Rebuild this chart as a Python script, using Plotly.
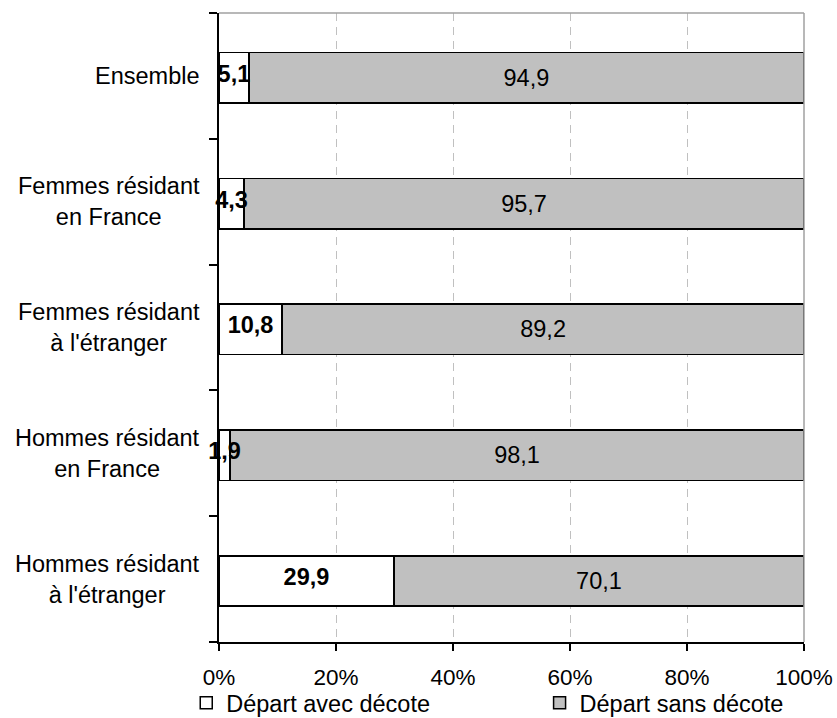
import plotly.graph_objects as go

# Categories, top to bottom
categories = [
    "Ensemble",
    "Femmes résidant<br>en France",
    "Femmes résidant<br>à l'étranger",
    "Hommes résidant<br>en France",
    "Hommes résidant<br>à l'étranger",
]
avec_decote = [5.1, 4.3, 10.8, 1.9, 29.9]
sans_decote = [94.9, 95.7, 89.2, 98.1, 70.1]
series_names = ["Départ avec décote", "Départ sans décote"]
x_ticks = [0, 20, 40, 60, 80, 100]
x_tick_labels = [f"{v}%" for v in x_ticks]

FONT = "Liberation Sans, Arial, sans-serif"
FS_LABEL = 23.5
FS_TICK = 22.5
FS_LEGEND = 23.5

BAR_WIDTH = 0.4
BAR_OFFSET = -0.215

fig = go.Figure()
fig.add_trace(go.Bar(
    y=categories, x=avec_decote, orientation="h", name=series_names[0],
    width=BAR_WIDTH, offset=BAR_OFFSET,
    marker=dict(color="white", line=dict(color="black", width=1.5)),
    legend="legend",
))
fig.add_trace(go.Bar(
    y=categories, x=sans_decote, orientation="h", name=series_names[1],
    width=BAR_WIDTH, offset=BAR_OFFSET,
    marker=dict(color="#c0c0c0", line=dict(color="black", width=1.5)),
    texttemplate="%{x:.1f}", textposition="inside", textangle=0,
    insidetextanchor="middle",
    insidetextfont=dict(color="black", size=FS_LABEL, family=FONT),
    constraintext="none", legend="legend2",
))
# Bold values of the first segment, drawn above both bar layers so they can
# spill over the narrow segments
fig.add_trace(go.Scatter(
    y=categories, x=[v / 2 for v in avec_decote], mode="text",
    text=[f"<b>{v:.1f}</b>".replace(".", ",") for v in avec_decote],
    textposition="middle center",
    textfont=dict(color="black", size=FS_LABEL, family=FONT),
    showlegend=False, hoverinfo="skip", cliponaxis=False,
))

# Category labels: right-aligned block, lines centred
for cat in categories:
    fig.add_annotation(
        x=0, xref="paper", y=cat, yref="y", text=cat, showarrow=False,
        xanchor="right", yanchor="middle", align="center", xshift=-17,
        font=dict(family=FONT, size=FS_LABEL, color="black"),
    )

# Grey top and right frame lines
fig.add_shape(type="line", xref="paper", yref="paper", x0=0, x1=1, y0=1, y1=1,
              line=dict(color="#a0a0a0", width=1.5))
fig.add_shape(type="line", xref="paper", yref="paper", x0=1, x1=1, y0=0, y1=1,
              line=dict(color="#a0a0a0", width=1.5))

legend_common = dict(
    orientation="h", xanchor="left", yanchor="middle", y=-0.097,
    font=dict(family=FONT, size=FS_LEGEND, color="black"),
    itemwidth=30, bgcolor="rgba(0,0,0,0)", borderwidth=0,
)

fig.update_layout(
    width=837, height=718,
    margin=dict(l=219, r=33, t=13, b=76, autoexpand=False),
    paper_bgcolor="white", plot_bgcolor="white",
    barmode="stack",
    separators=", ",
    uniformtext=dict(minsize=FS_LABEL, mode="show"),
    font=dict(family=FONT, size=FS_TICK, color="black"),
    showlegend=True,
    legend=dict(x=-0.056, **legend_common),
    legend2=dict(x=0.548, **legend_common),
    xaxis=dict(
        range=[0, 100], tickvals=x_ticks, ticktext=x_tick_labels,
        showline=True, linecolor="black", linewidth=1.5,
        ticks="outside", ticklen=7, tickcolor="black", tickwidth=1.5,
        ticklabelstandoff=7,
        showgrid=True, gridcolor="#c0c0c0", gridwidth=1, griddash="8px,6px",
        zeroline=False, tickfont=dict(family=FONT, size=FS_TICK, color="black"),
    ),
    yaxis=dict(
        type="category", categoryorder="array", categoryarray=categories[::-1],
        tickson="boundaries", ticks="outside", ticklen=8, tickcolor="black", tickwidth=1.5,
        showticklabels=False, showline=True, linecolor="black", linewidth=1.5,
        showgrid=False, zeroline=False,
    ),
)

fig.write_html("out.html")
